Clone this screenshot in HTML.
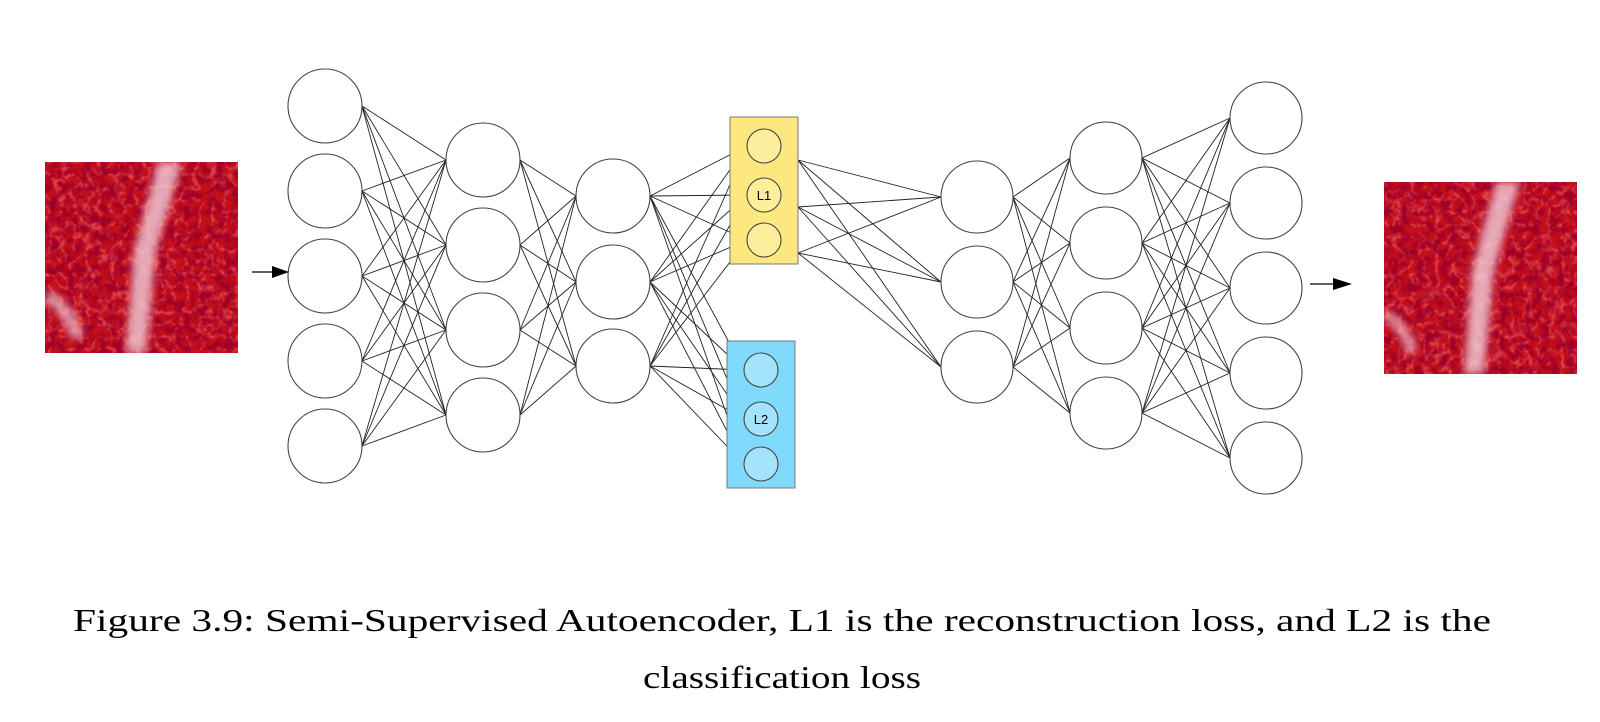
<!DOCTYPE html>
<html><head><meta charset="utf-8"><style>
html,body{margin:0;padding:0;background:#fff;width:1600px;height:722px;overflow:hidden}
svg{display:block}
</style></head><body>
<svg id="s" width="1600" height="722" viewBox="0 0 1600 722" xmlns="http://www.w3.org/2000/svg">
<defs>
<filter id="tex" x="0" y="0" width="100%" height="100%">
<feTurbulence type="fractalNoise" baseFrequency="0.12" numOctaves="3" seed="4" result="n"/>
<feColorMatrix in="n" type="matrix" values="0 0 0 0 0.35  0 0 0 0 0  0 0 0 0 0.02  0 0 0 -3 1.9" result="c"/>
<feComposite in="c" in2="SourceGraphic" operator="in"/>
</filter>
<filter id="tex2" x="0" y="0" width="100%" height="100%">
<feTurbulence type="turbulence" baseFrequency="0.08" numOctaves="2" seed="9" result="n"/>
<feColorMatrix in="n" type="matrix" values="0 0 0 0 1  0 0 0 0 0.2  0 0 0 0 0.25  0 0 0 -4 1.1" result="c"/>
<feComposite in="c" in2="SourceGraphic" operator="in"/>
</filter>
<filter id="bl"><feGaussianBlur stdDeviation="4"/></filter>
<clipPath id="c1"><rect x="45" y="162" width="193" height="191"/></clipPath>
<clipPath id="c2"><rect x="1384" y="182" width="193" height="192"/></clipPath>
</defs>
<g clip-path="url(#c1)">
<rect x="45" y="162" width="193" height="191" fill="#c40f1a"/>
<rect x="45" y="162" width="193" height="191" fill="#000" filter="url(#tex2)" opacity="0.5"/>
<rect x="45" y="162" width="193" height="191" fill="#000" filter="url(#tex)"/>
<path d="M158 162 L182 162 L156 250 L146 353 L126 353 L134 250 Z" fill="#f3d0da" filter="url(#bl)" opacity="0.8"/>
<path d="M48 290 Q72 300 84 335 L72 340 Q60 310 45 302 Z" fill="#f0c8d4" filter="url(#bl)" opacity="0.7"/>
</g>
<g clip-path="url(#c2)">
<rect x="1384" y="182" width="193" height="192" fill="#c40f1a"/>
<rect x="1384" y="182" width="193" height="192" fill="#000" filter="url(#tex2)" opacity="0.5"/>
<rect x="1384" y="182" width="193" height="192" fill="#000" filter="url(#tex)"/>
<path d="M1496 182 L1520 182 L1494 270 L1484 374 L1464 374 L1472 270 Z" fill="#f3d0da" filter="url(#bl)" opacity="0.8"/>
<path d="M1386 310 Q1408 320 1418 350 L1408 355 Q1398 328 1384 320 Z" fill="#f0c8d4" filter="url(#bl)" opacity="0.7"/>
</g>
<g id="lines" stroke="#222" stroke-width="0.9" fill="none"></g>
<rect x="730" y="117" width="68" height="147" fill="#fde77f" stroke="#777" stroke-width="1"/>
<rect x="727" y="341" width="68" height="147" fill="#80dafb" stroke="#777" stroke-width="1"/>
<g id="nodes" stroke="#444" stroke-width="1.1"></g>
<g font-family="Liberation Sans, sans-serif" font-size="13" text-anchor="middle" fill="#000">
<text x="764" y="200">L1</text>
<text x="761" y="424">L2</text>
</g>
<g stroke="#000" stroke-width="1.2"><line x1="252" y1="272" x2="272" y2="272"/><line x1="1310" y1="284" x2="1335" y2="284"/></g>
<polygon points="272,266 289,272 272,278" fill="#000"/>
<polygon points="1333,278 1352,284 1333,290" fill="#000"/>
<g font-family="Liberation Serif, serif" font-size="32" fill="#000">
<text x="73" y="631" textLength="1418" lengthAdjust="spacingAndGlyphs">Figure 3.9: Semi-Supervised Autoencoder, L1 is the reconstruction loss, and L2 is the</text>
<text x="643" y="688" textLength="278" lengthAdjust="spacingAndGlyphs">classification loss</text>
</g>
</svg>
<script>
var NS="http://www.w3.org/2000/svg";
function L(x,ys,r,f){return ys.map(function(y){return{x:x,y:y,r:r,f:f||"#fff"}});}
var l1=L(325,[106,191,276,361,446],37),l2=L(483,[160,245,330,415],37),l3=L(613,[196,282,366],37);
var yl=L(764,[146,195,240],17,"#fdee9c"),bl=L(761,[370,419,464],17,"#a3e3fc");
var l5=L(977,[197,282,367],36),l6=L(1106,[158,243,328,413],36),l7=L(1266,[118,203,288,373,458],36);
var g=document.getElementById("lines"),n=document.getElementById("nodes");
function ln(a,b,c,d){var e=document.createElementNS(NS,"line");e.setAttribute("x1",a);e.setAttribute("y1",b);e.setAttribute("x2",c);e.setAttribute("y2",d);g.appendChild(e);}
function conn(A,B){A.forEach(function(a){B.forEach(function(b){ln(a.x+a.r,a.y,b.x-b.r,b.y);});});}
conn(l1,l2);conn(l2,l3);conn(l3,yl);conn(l3,bl);conn(l5,l6);conn(l6,l7);
[160,207,253].forEach(function(y){l5.forEach(function(b){ln(798,y,b.x-b.r,b.y);});});
[l1,l2,l3,yl,bl,l5,l6,l7].forEach(function(Lr){Lr.forEach(function(c){var e=document.createElementNS(NS,"circle");e.setAttribute("cx",c.x);e.setAttribute("cy",c.y);e.setAttribute("r",c.r);e.setAttribute("fill",c.f);n.appendChild(e);});});
</script>
</body></html>
